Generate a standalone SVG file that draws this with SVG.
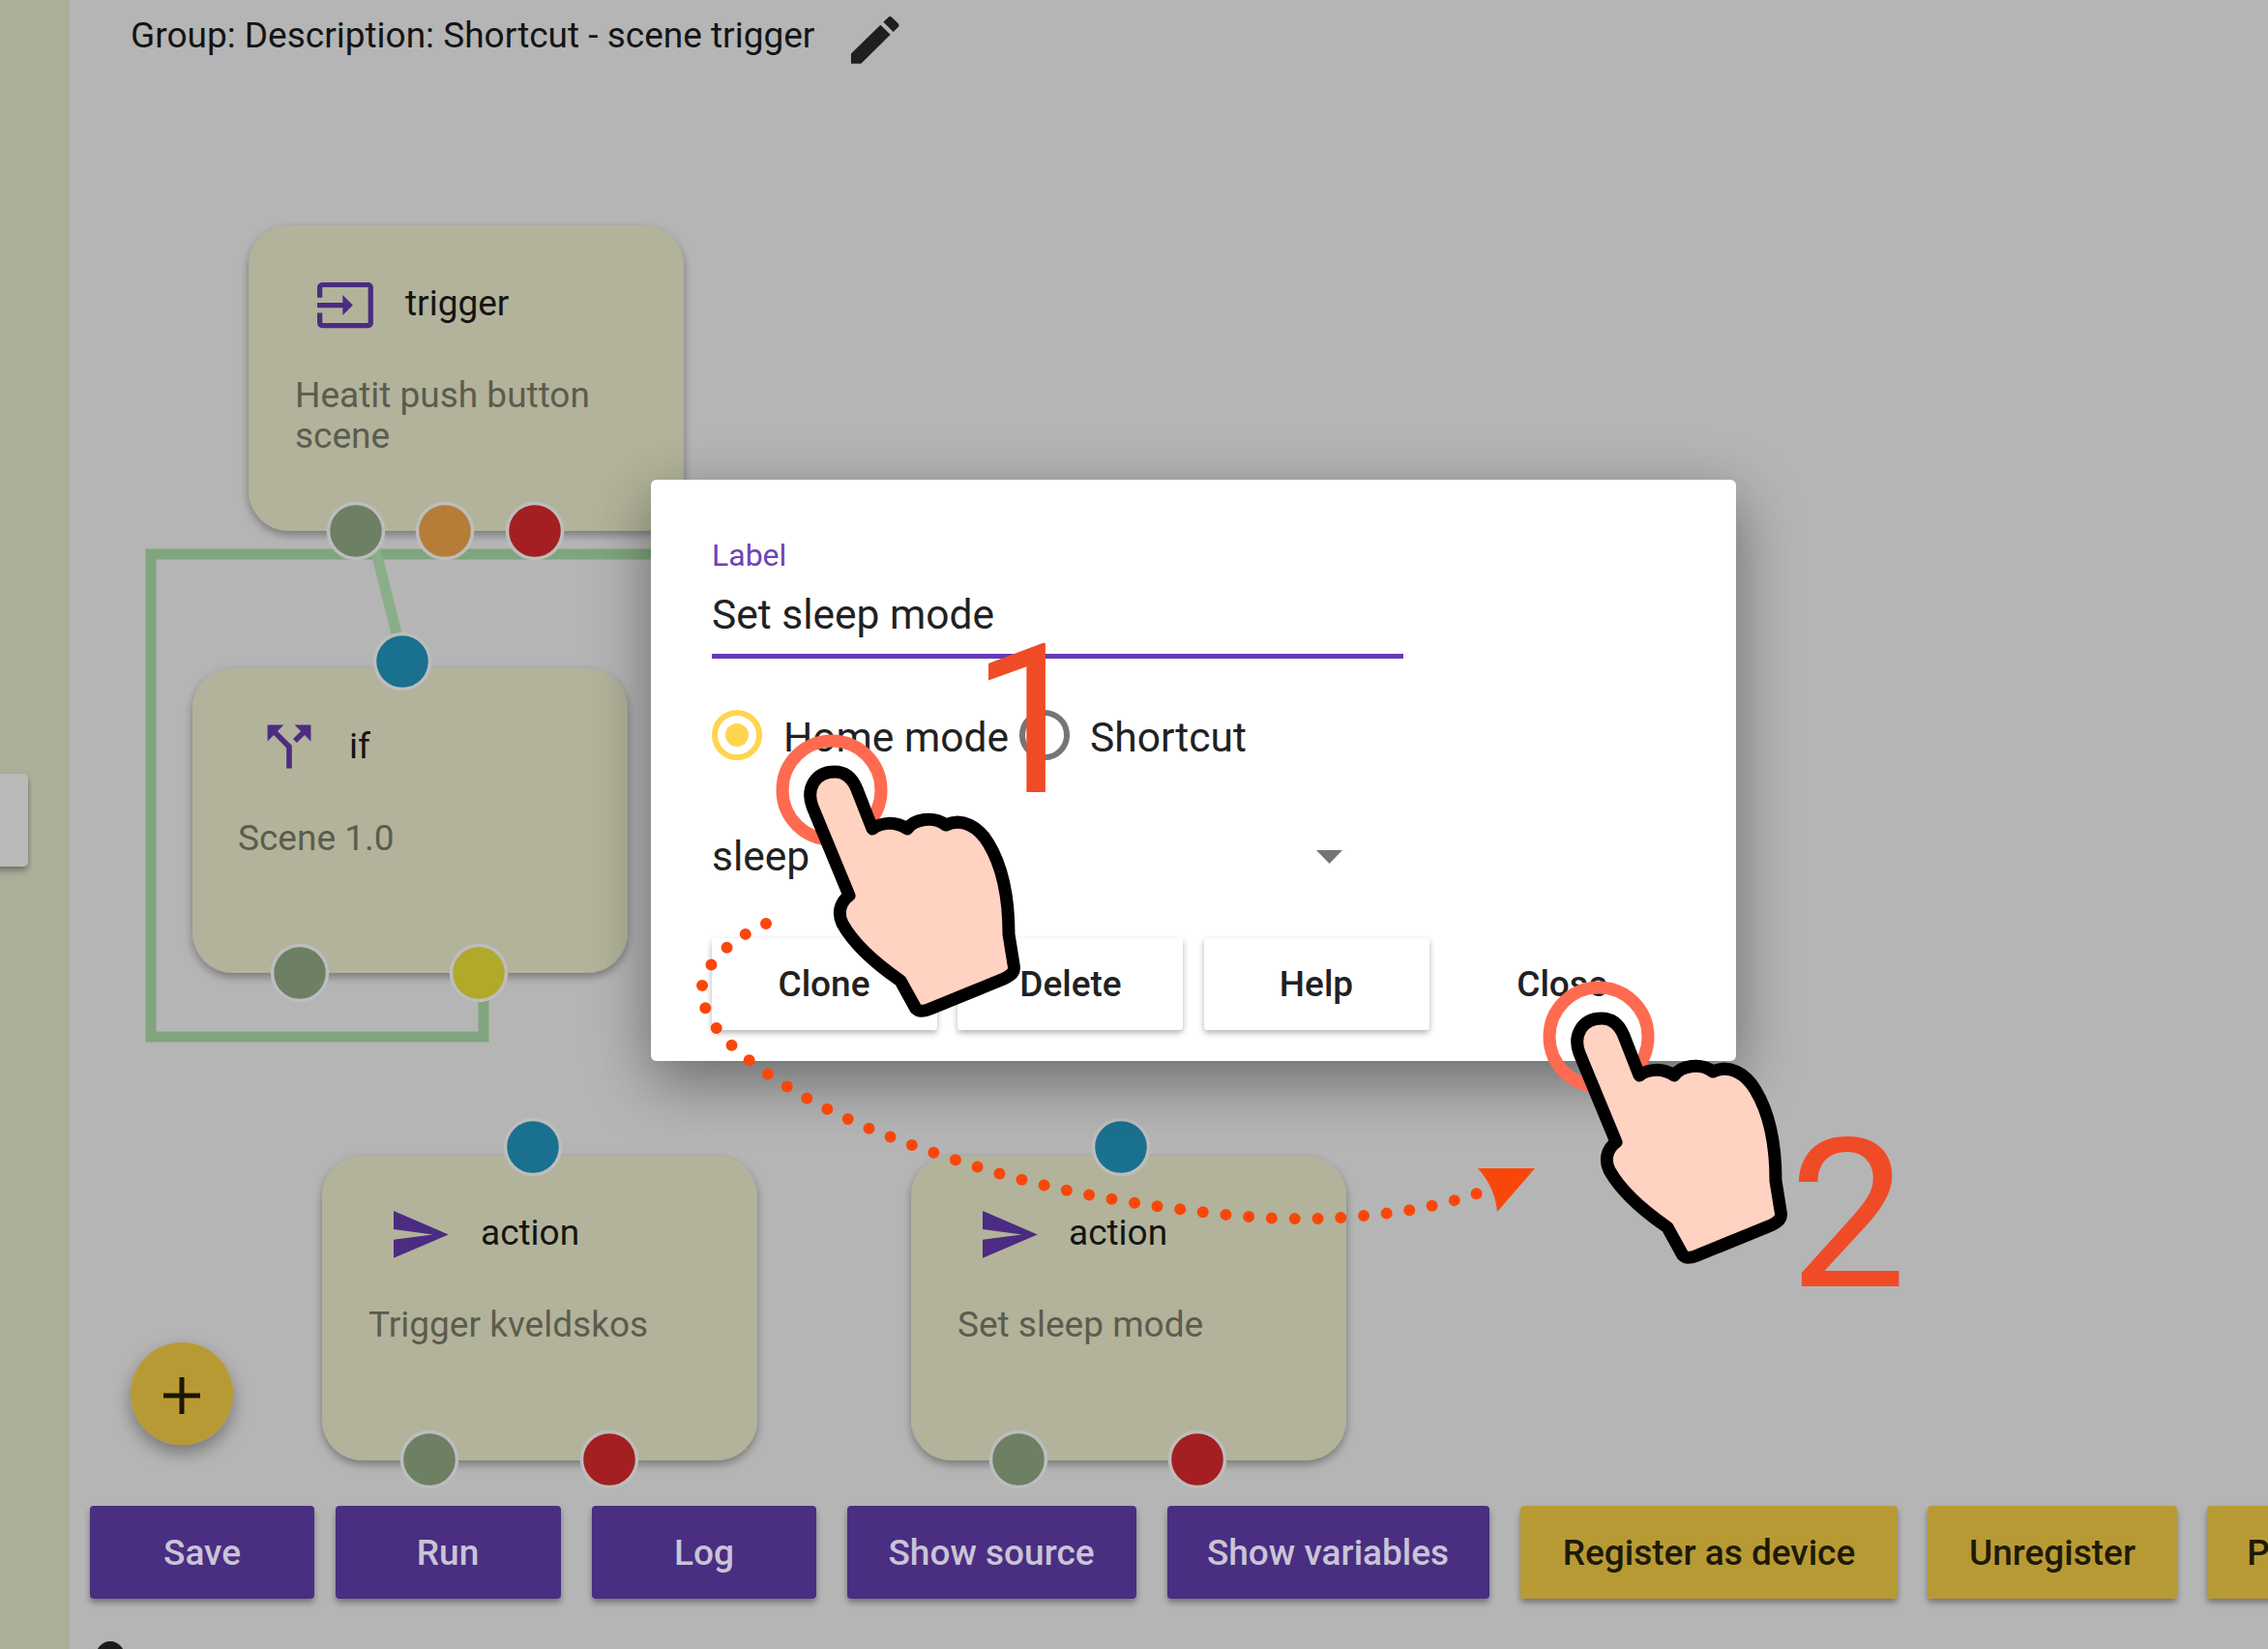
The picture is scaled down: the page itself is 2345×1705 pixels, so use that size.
<svg xmlns="http://www.w3.org/2000/svg" width="2345" height="1705" viewBox="0 0 2345 1705">
<style>
text{font-family:Roboto,"Liberation Sans",sans-serif}
.node{fill:#b2b39a;filter:url(#ns)}
.t{font-size:37px;fill:#141414}
.d{font-size:37px;fill:#5c5c4e}
.p{stroke:#bdbdbd;stroke-width:3.500}
.pg{fill:#6d8063}.po{fill:#b57d38}.pr{fill:#a41f21}.pb{fill:#19718f}.py{fill:#b0a92a}
.ic{fill:#4b2c82}
.bp{fill:#4a2d82;filter:url(#bs)}.bg{fill:#b89a35;filter:url(#bs)}
.bl{font-size:37px;font-weight:500;text-anchor:middle}
.lp{fill:#c9c4d6}.lg{fill:#1e1a05}
.w{fill:#fff;filter:url(#bs2)}
.lw{font-size:37px;font-weight:500;text-anchor:middle;fill:#212121}
.f{font-size:42.500px;fill:#212121}
.big{font-size:216px;fill:#f04b27}
.hand{fill:#ffd2c2;stroke:#000;stroke-width:13;stroke-linejoin:round}
.ring{fill:none;stroke:#ff6b50;stroke-width:13}
</style>
<defs>
<filter id="ns" x="-20%" y="-20%" width="140%" height="140%"><feDropShadow dx="0" dy="4" stdDeviation="5" flood-color="#000" flood-opacity=".35"/></filter>
<filter id="bs" x="-10%" y="-20%" width="120%" height="150%"><feDropShadow dx="0" dy="4" stdDeviation="3" flood-color="#000" flood-opacity=".35"/></filter>
<filter id="bs2" x="-10%" y="-20%" width="120%" height="150%"><feDropShadow dx="0" dy="3" stdDeviation="3" flood-color="#000" flood-opacity=".3"/></filter>
<filter id="fab" x="-50%" y="-50%" width="200%" height="200%"><feDropShadow dx="0" dy="8" stdDeviation="9" flood-color="#000" flood-opacity=".35"/></filter>
<filter id="dlg" x="-30%" y="-40%" width="160%" height="190%"><feDropShadow dx="0" dy="20" stdDeviation="32" flood-color="#000" flood-opacity=".42"/></filter>
<path id="hand" class="hand" d="M863 798C875 798 882 806 886 816L902 857C910 851 925 848 938 857C945 847 965 843 978 853C995 845 1012 855 1022 872C1036 895 1043 925 1043 966L1048 997C1050 1005 1046 1008 1038 1012L962 1043C955 1046 950 1046 947 1043L931 1014C915 1003 885 980 871 955C866 945 868 933 878 926L840 834C833 815 843 798 863 798Z"/>
<path id="inp" d="M21 3.010H3c-1.100 0-2 .9-2 2V9h2V4.990h18v14.030H3V15H1v4.010c0 1.100.9 1.980 2 1.980h18c1.100 0 2-.88 2-1.980v-14c0-1.110-.9-2-2-2zM11 16l4-4-4-4v3H1v2h10v3z"/>
<path id="send" d="M2.010 21L23 12 2.010 3 2 10l15 2-15 2z"/>
</defs>
<rect width="2345" height="1705" fill="#b5b5b5"/>
<rect width="72" height="1705" fill="#adae99"/>
<rect x="-8" y="800" width="37" height="96" rx="5" fill="#b9b9b9" filter="url(#bs)"/>
<text x="135" y="49" font-size="37" fill="#141414">Group: Description: Shortcut - scene trigger</text>
<path fill="#1f1f1f" transform="translate(871.700 9) scale(2.750 2.700)" d="M3 17.250V21h3.750L17.810 9.940l-3.750-3.750L3 17.250zM20.710 7.040c.39-.39.39-1.020 0-1.410l-2.340-2.340c-.39-.39-1.020-.39-1.410 0l-1.830 1.830 3.750 3.750 1.830-1.830z"/>

<g id="connectors" fill="none" stroke="#80a57e" stroke-width="11">
<path d="M690 573H156V1072H500V1006"/>
<path d="M385 555L417 683" stroke="#8aae87"/>
</g>

<g id="node-trigger">
<rect class="node" x="257" y="233" width="450" height="316" rx="42"/>
<use href="#inp" class="ic" transform="translate(325.400 284) scale(2.630)"/>
<text class="t" x="419" y="326">trigger</text>
<text class="d" x="305" y="421">Heatit push button</text>
<text class="d" x="305" y="463">scene</text>
<circle class="p pg" cx="368" cy="549" r="28.500"/>
<circle class="p po" cx="460" cy="549" r="28.500"/>
<circle class="p pr" cx="553" cy="549" r="28.500"/>
</g>
<g id="node-if">
<rect class="node" x="199" y="691" width="450" height="315" rx="42"/>
<path class="ic" transform="translate(265.400 738.400) scale(2.800)" d="M14 4l2.290 2.290-2.880 2.880 1.420 1.420 2.880-2.880L20 10V4h-6zm-4 0H4v6l2.290-2.290 4.710 4.700V20h2v-8.410l-5.290-5.300L10 4z"/>
<text class="t" x="361" y="784">if</text>
<text class="d" x="246" y="879">Scene 1.0</text>
<circle class="p pb" cx="416" cy="684" r="28.500"/>
<circle class="p pg" cx="310" cy="1006" r="28.500"/>
<circle class="p py" cx="495" cy="1006" r="28.500"/>
</g>
<g id="node-action-1">
<rect class="node" x="333" y="1195" width="450" height="315" rx="42"/>
<use href="#send" class="ic" transform="translate(401.600 1244) scale(2.700)"/>
<text class="t" x="497" y="1287">action</text>
<text class="d" x="381" y="1382">Trigger kveldskos</text>
<circle class="p pb" cx="551" cy="1186" r="28.500"/>
<circle class="p pg" cx="444" cy="1509" r="28.500"/>
<circle class="p pr" cx="630" cy="1509" r="28.500"/>
</g>
<g id="node-action-2">
<rect class="node" x="942" y="1195" width="450" height="315" rx="42"/>
<use href="#send" class="ic" transform="translate(1010.600 1244) scale(2.700)"/>
<text class="t" x="1105" y="1287">action</text>
<text class="d" x="990" y="1382">Set sleep mode</text>
<circle class="p pb" cx="1159" cy="1186" r="28.500"/>
<circle class="p pg" cx="1053" cy="1509" r="28.500"/>
<circle class="p pr" cx="1238" cy="1509" r="28.500"/>
</g>
<g id="fab">
<circle cx="188" cy="1441" r="53" fill="#b89a35" filter="url(#fab)"/>
<path d="M169 1443h38M188 1424v38" stroke="#1c1600" stroke-width="5"/>
</g>
<g id="toolbar">
<rect class="bp" x="93" y="1557" width="232" height="96" rx="4"/><text class="bl lp" x="209" y="1618">Save</text>
<rect class="bp" x="347" y="1557" width="233" height="96" rx="4"/><text class="bl lp" x="463" y="1618">Run</text>
<rect class="bp" x="612" y="1557" width="232" height="96" rx="4"/><text class="bl lp" x="728" y="1618">Log</text>
<rect class="bp" x="876" y="1557" width="299" height="96" rx="4"/><text class="bl lp" x="1025" y="1618">Show source</text>
<rect class="bp" x="1207" y="1557" width="333" height="96" rx="4"/><text class="bl lp" x="1373" y="1618">Show variables</text>
<rect class="bg" x="1572" y="1557" width="390" height="96" rx="4"/><text class="bl lg" x="1767" y="1618">Register as device</text>
<rect class="bg" x="1993" y="1557" width="258" height="96" rx="4"/><text class="bl lg" x="2122" y="1618">Unregister</text>
<rect class="bg" x="2282" y="1557" width="90" height="96" rx="4"/><text class="bl lg" x="2335" y="1618">P</text>
</g>
<ellipse cx="114" cy="1713" rx="15" ry="16" fill="#1c1c1c"/>

<g id="dialog">
<rect x="673" y="496" width="1122" height="601" rx="6" fill="#fff" filter="url(#dlg)"/>
<text x="736" y="585" font-size="32" fill="#6a45b5">Label</text>
<text class="f" x="736" y="650">Set sleep mode</text>
<rect x="736" y="676" width="715" height="5" fill="#673ab7"/>
<circle cx="762" cy="760" r="23" fill="none" stroke="#ffd54f" stroke-width="6"/>
<circle cx="762" cy="760" r="12" fill="#ffd54f"/>
<text class="f" x="810" y="777">Home mode</text>
<circle cx="1080" cy="760" r="23" fill="none" stroke="#757575" stroke-width="6"/>
<text class="f" x="1127" y="777">Shortcut</text>
<text class="f" x="736" y="900">sleep</text>
<path d="M1361 879h27l-13.500 14z" fill="#757575"/>
<rect class="w" x="736" y="970" width="233" height="95" rx="4"/><text class="lw" x="852" y="1030">Clone</text>
<rect class="w" x="990" y="970" width="233" height="95" rx="4"/><text class="lw" x="1107" y="1030">Delete</text>
<rect class="w" x="1245" y="970" width="233" height="95" rx="4"/><text class="lw" x="1361" y="1030">Help</text>
<text class="lw" x="1615" y="1030">Close</text>
</g>

<g id="annotation-path">
<path d="M792 955C752 972 718 1005 727 1035C733 1058 750 1077 773 1095C850 1155 940 1185 1032 1213C1102 1233 1172 1245 1242 1253C1290 1259 1338 1262 1385 1259C1433 1256 1480 1250 1527 1234" fill="none" stroke="#f9470a" stroke-width="12" stroke-linecap="round" pathLength="41.020" stroke-dasharray="0 1"/>
<path d="M1528 1208H1587L1548 1253Q1546 1228 1528 1208Z" fill="#f9470a"/>
</g>
<g id="tap-1">
<circle class="ring" cx="860" cy="817" r="51"/>
<use href="#hand"/>
<text class="big" x="1004" y="819">1</text>
</g>
<g id="tap-2">
<circle class="ring" cx="1653" cy="1072" r="51"/>
<use href="#hand" transform="translate(793 255)"/>
<text class="big" x="1850" y="1330">2</text>
</g>
</svg>
